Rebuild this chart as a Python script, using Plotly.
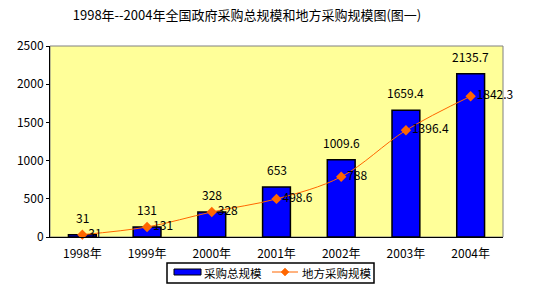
import plotly.graph_objects as go

years = ["1998年", "1999年", "2000年", "2001年", "2002年", "2003年", "2004年"]
total = [31, 131, 328, 653, 1009.6, 1659.4, 2135.7]
local = [31, 131, 328, 498.6, 788, 1396.4, 1842.3]
total_labels = ["31", "131", "328", "653", "1009.6", "1659.4", "2135.7"]
local_labels = ["31", "131", "328", "498.6", "788", "1396.4", "1842.3"]
series_names = ["采购总规模", "地方采购规模"]

FONT = "Noto Sans CJK SC, DejaVu Sans, sans-serif"
W, H = 543, 287
L, R, T, B = 50, 40, 46, 50
PW, PH = W - L - R, H - T - B
BLUE, ORANGE = "#0000FF", "#FF6600"

def px(x):
    return (x - L) / PW

def py(y):
    return (H - B - y) / PH

fig = go.Figure()
fig.add_trace(go.Bar(
    x=years, y=total, name=series_names[0],
    marker=dict(color=BLUE, line=dict(color="black", width=1.5)),
))
fig.add_trace(go.Scatter(
    x=years, y=local, name=series_names[1], mode="lines+markers+text",
    line=dict(color=ORANGE, width=1, shape="spline"),
    marker=dict(symbol="diamond", size=8, color=ORANGE),
    text=local_labels, textposition="middle right",
    textfont=dict(size=12, color="black", family=FONT),
    cliponaxis=False,
))
for xv, yv, lab in zip(years, total, total_labels):
    fig.add_annotation(x=xv, y=yv, text=lab, showarrow=False, yanchor="bottom",
                       yshift=7, font=dict(size=12, color="black", family=FONT))

# custom legend
fig.add_shape(type="rect", xref="paper", yref="paper", x0=px(167), x1=px(374),
              y0=py(283), y1=py(263), line=dict(color="black", width=1.5),
              fillcolor="white")
fig.add_shape(type="rect", xref="paper", yref="paper", x0=px(174), x1=px(201),
              y0=py(275), y1=py(269), line=dict(color="black", width=1),
              fillcolor=BLUE)
fig.add_shape(type="line", xref="paper", yref="paper", x0=px(272), x1=px(298),
              y0=py(272), y1=py(272), line=dict(color=ORANGE, width=1))
cx, cy, d = 285, 272, 4
fig.add_shape(type="path", xref="paper", yref="paper",
              path=(f"M {px(cx - d)},{py(cy)} L {px(cx)},{py(cy - d)} "
                    f"L {px(cx + d)},{py(cy)} L {px(cx)},{py(cy + d)} Z"),
              fillcolor=ORANGE, line=dict(color=ORANGE, width=0.5))
fig.add_annotation(xref="paper", yref="paper", x=px(202), y=py(272.5),
                   xanchor="left", yanchor="middle", text=series_names[0],
                   showarrow=False, font=dict(size=11.5, family=FONT, color="black"))
fig.add_annotation(xref="paper", yref="paper", x=px(300), y=py(272.5),
                   xanchor="left", yanchor="middle", text=series_names[1],
                   showarrow=False, font=dict(size=11.5, family=FONT, color="black"))

fig.update_layout(
    width=W, height=H,
    margin=dict(l=L, r=R, t=T, b=B, autoexpand=False),
    paper_bgcolor="white", plot_bgcolor="#FFFF99",
    bargap=0.57,
    font=dict(family=FONT, size=12, color="black"),
    title=dict(text="1998年--2004年全国政府采购总规模和地方采购规模图(图一)",
               x=247/W, xanchor="center", y=1-15/H, yanchor="middle",
               font=dict(size=13, color="black", family=FONT)),
    showlegend=False,
    xaxis=dict(showline=True, linecolor="black", linewidth=1,
               ticks="", showgrid=False, tickfont=dict(size=12),
               ticklabelstandoff=6),
    yaxis=dict(range=[0, 2500], dtick=500, showline=True, linecolor="black",
               linewidth=1, showgrid=False, zeroline=False, ticks="outside",
               ticklen=3, tickcolor="black", tickfont=dict(size=12)),
)
fig.add_shape(type="rect", xref="paper", yref="paper", x0=0, y0=0, x1=1, y1=1,
              line=dict(color="#808080", width=1), layer="below")

fig.write_html("out.html")
